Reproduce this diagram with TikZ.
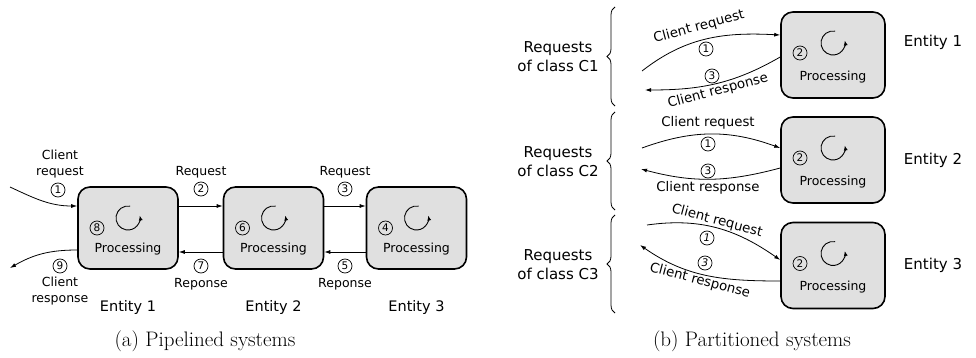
\documentclass[tikz,border=0pt]{standalone}
\usepackage{fontspec}
\newfontfamily\lblfont{DejaVu Sans}
\usetikzlibrary{arrows.meta,decorations.pathreplacing,calc}
\definecolor{boxgray}{RGB}{224,224,224}

% interior of a processing box: circled number, spinning arrow, label
% #1 box name, #2 step digit, #3 x-offset of digit, #4 y-offset of digit,
% #5 y-offset of spin centre, #6 y-offset of "Processing"
\newcommand\procparts[6]{%
  \node[cnum] (#1num) at ($(#1.center)+(#3,#4)$) {#2};
  \draw[spin] ($(#1.center)+(0,#5)+(80:12)$) arc[start angle=80, end angle=372, radius=12];
  \node[la] (#1txt) at ($(#1.center)+(0,#6)$) {Processing};
}

\tikzset{
  procbox/.style={draw, line width=1.6pt, rounded corners=12pt, fill=boxgray,
    minimum width=100pt, minimum height=82pt, inner sep=0},
  procboxb/.style={procbox, minimum width=104pt, minimum height=86pt},
  la/.style={font=\lblfont\fontsize{12.5}{16}\selectfont, inner sep=0, align=center},
  lb/.style={font=\lblfont\fontsize{13.3}{16}\selectfont, inner sep=0, align=center},
  ent/.style={font=\lblfont\fontsize{14.5}{19}\selectfont, inner sep=0, align=center},
  entb/.style={font=\lblfont\fontsize{15}{19}\selectfont, inner sep=0, align=center},
  cnum/.style={circle, draw, line width=0.7pt, inner sep=0pt, minimum size=14pt,
    font=\lblfont\fontsize{10.5}{12}\selectfont},
  conn/.style={line width=0.8pt, -{Latex[length=6pt,width=4pt]}},
  spin/.style={line width=0.9pt, -{Latex[length=5pt,width=4pt]}},
  capt/.style={font=\fontsize{21}{25}\selectfont, inner sep=0},
  classbrace/.style={decorate, decoration={brace, amplitude=8pt}, line width=0.8pt},
}

\begin{document}
\begin{tikzpicture}[x=1pt, y=1pt]
\useasboundingbox (0,0) rectangle (976,-358);

% ---------- (a) pipelined systems ----------
\node[procbox] (a1) at (128,-228) {};
\node[procbox] (a2) at (273.5,-228) {};
\node[procbox] (a3) at (416.5,-228) {};
\procparts{a1}{8}{-31}{0}{10}{-21}
\procparts{a2}{6}{-31}{0}{10}{-21}
\procparts{a3}{4}{-31}{0}{10}{-21}

% forward requests
\draw[conn] ([yshift=22pt]a1.east) -- ([yshift=22pt]a2.west);
\draw[conn] ([yshift=22pt]a2.east) -- ([yshift=22pt]a3.west);
% backward responses
\draw[conn] ([yshift=-24pt]a2.west) -- ([yshift=-24pt]a1.east);
\draw[conn] ([yshift=-24pt]a3.west) -- ([yshift=-24pt]a2.east);

\node[la]   (rq2) at (201,-172) {Request};
\node[cnum] (n2)  at (201,-189) {2};
\node[la]   (rq3) at (345,-172) {Request};
\node[cnum] (n3)  at (345,-189) {3};
\node[cnum] (n7)  at (201,-266) {7};
\node[la]   (rp7) at (201,-284) {Reponse};
\node[cnum] (n5)  at (345,-266) {5};
\node[la]   (rp5) at (345,-284) {Reponse};

% client side
\coordinate (cin) at (10,-187);
\coordinate (cout) at (10,-268);
\draw[conn] (cin) to[out=-25, in=180] ([yshift=22pt]a1.west);
\draw[conn] ([yshift=-22pt]a1.west) to[out=180, in=30] (cout);
\node[la]   (creq) at (60,-164) {Client\\request};
\node[cnum] (n1)   at (58,-190) {1};
\node[cnum] (n9)   at (60,-266) {9};
\node[la]   (cres) at (60,-291) {Client\\response};

\node[ent] (e1) at (128,-307) {Entity 1};
\node[ent] (e2) at (273.5,-307) {Entity 2};
\node[ent] (e3) at (416.5,-307) {Entity 3};

\node[capt] (capa) at (205,-341) {(a) Pipelined systems};

% ---------- (b) partitioned systems ----------
\node[procboxb] (b1) at (833,-55) {};
\node[procboxb] (b2) at (833,-160) {};
\node[procboxb] (b3) at (833,-265.5) {};
\procparts{b1}{2}{-33}{2}{12}{-22}
\procparts{b2}{2}{-33}{2}{12}{-22}
\procparts{b3}{2}{-33}{2}{12}{-22}

\node[entb] (f1) at (933,-42) {Entity 1};
\node[entb] (f2) at (933,-160) {Entity 2};
\node[entb] (f3) at (933,-265) {Entity 3};

% class braces and labels
\draw[classbrace] (615,-106) -- (615,-7);
\draw[classbrace] (615,-210) -- (615,-112);
\draw[classbrace] (615,-313) -- (615,-215);
\node[entb] (k1) at (558,-57) {Requests\\of class C1};
\node[entb] (k2) at (558,-162) {Requests\\of class C2};
\node[entb] (k3) at (558,-265) {Requests\\of class C3};

% class C1
\coordinate (s1) at (642,-71);
\coordinate (t1) at (645,-90);
\draw[conn] (s1) to[out=38, in=177] ([yshift=20pt]b1.west);
\draw[conn] ([yshift=-2pt]b1.west) to[out=210, in=0] (t1);
\node[lb, rotate=15]  (q1) at (699,-27) {Client request};
\node[cnum]           (m1) at (706,-49) {1};
\node[cnum]           (m3) at (712,-76) {3};
\node[lb, rotate=15]  (r1) at (718,-91) {Client response};

% class C2
\coordinate (s2) at (642,-148);
\coordinate (t2) at (641,-169);
\draw[conn] (s2) to[out=20, in=160] ([yshift=12pt]b2.west);
\draw[conn] ([yshift=-8pt]b2.west) to[out=195, in=-15] (t2);
\node[lb]   (q2)  at (708,-123) {Client request};
\node[cnum] (m21) at (708,-144) {1};
\node[cnum] (m23) at (708,-171) {3};
\node[lb]   (r2)  at (708,-188) {Client response};

% class C3
\coordinate (s3) at (647,-225);
\coordinate (t3) at (640,-245);
\draw[conn] (s3) to[out=8, in=145] ([yshift=5.5pt]b3.west);
\draw[conn] ([yshift=-15.5pt]b3.west) to[out=180, in=-35] (t3);
\node[lb, rotate=-15] (q3)  at (717,-221) {Client request};
\node[cnum]           (m31) at (707,-238) {\textit{1}};
\node[cnum]           (m33) at (705,-263) {\textit{3}};
\node[lb, rotate=-15] (r3)  at (700,-281) {Client response};

\node[capt] (capb) at (752,-341) {(b) Partitioned systems};
\end{tikzpicture}
\end{document}
